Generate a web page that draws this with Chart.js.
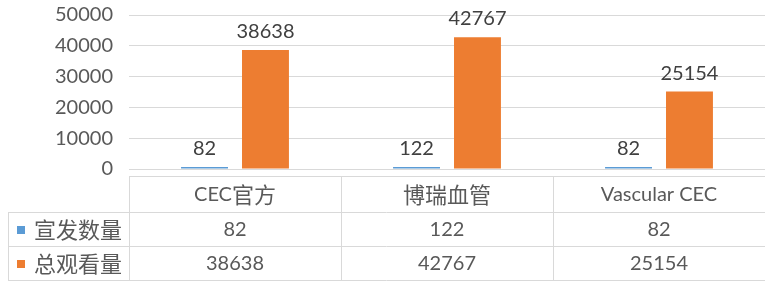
<!DOCTYPE html>
<html>
<head>
<meta charset="utf-8">
<script src="https://cdn.jsdelivr.net/npm/chart.js@4/dist/chart.umd.min.js"></script>
<style>
  html, body { margin: 0; padding: 0; background: #ffffff; }
  #wrap { width: 765px; height: 283px; position: relative; }
</style>
</head>
<body>
<div id="wrap"><canvas id="c" width="765" height="283"></canvas></div>
<script>
const categories = ["CEC官方", "博瑞血管", "Vascular CEC"];
const seriesNames = ["宣发数量", "总观看量"];
const releaseCounts = [82, 122, 82];
const totalViews = [38638, 42767, 25154];
const yTicks = [0, 10000, 20000, 30000, 40000, 50000];
const seriesColors = ["#5B9BD5", "#ED7D31"];

const LATIN_FONT = '20px Lato, sans-serif';
const CJK_FONT = '22px "Noto Sans CJK SC", sans-serif';
const GRID = '#d9d9d9';
const TEXT = '#595959';

function runs(str) {
  const out = [];
  for (const ch of str) {
    const cjk = /[\u3000-\u9fff\uff00-\uffef]/.test(ch);
    if (out.length && out[out.length - 1].cjk === cjk) out[out.length - 1].t += ch;
    else out.push({ t: ch, cjk });
  }
  return out;
}
function drawMixed(ctx, str, x, y, align) {
  const parts = runs(str);
  let total = 0;
  parts.forEach(p => { ctx.font = p.cjk ? CJK_FONT : LATIN_FONT; p.w = ctx.measureText(p.t).width; total += p.w; });
  let cx = align === 'center' ? x - total / 2 : x;
  ctx.textAlign = 'left';
  parts.forEach(p => {
    ctx.font = p.cjk ? CJK_FONT : LATIN_FONT;
    ctx.fillText(p.t, cx, p.cjk ? y - 0.5 : y);
    cx += p.w;
  });
}

const labelPlugin = {
  id: 'barLabels',
  afterDatasetsDraw(chart) {
    const ctx = chart.ctx;
    ctx.save();
    ctx.font = LATIN_FONT;
    ctx.fillStyle = '#404040';
    ctx.textAlign = 'center';
    ctx.textBaseline = 'alphabetic';
    chart.data.datasets.forEach((ds, di) => {
      const meta = chart.getDatasetMeta(di);
      meta.data.forEach((bar, i) => {
        ctx.fillText(String(ds.data[i]), bar.x, bar.y - 12);
      });
    });
    ctx.restore();
  }
};

const tablePlugin = {
  id: 'dataTable',
  afterDraw(chart) {
    const ctx = chart.ctx;
    const xs = chart.scales.x;
    const area = chart.chartArea;
    const n = categories.length;
    const cw = (area.right - area.left) / n;
    const rows = [176, 212, 246, 280];
    const legendLeft = 8;
    ctx.save();
    ctx.strokeStyle = GRID;
    ctx.lineWidth = 1;
    ctx.beginPath();
    ctx.moveTo(area.left, rows[0] + 0.5); ctx.lineTo(area.right, rows[0] + 0.5);
    for (let r = 1; r < rows.length; r++) {
      ctx.moveTo(legendLeft, rows[r] + 0.5); ctx.lineTo(area.right, rows[r] + 0.5);
    }
    ctx.moveTo(legendLeft + 0.5, rows[1]); ctx.lineTo(legendLeft + 0.5, rows[3] + 1);
    for (let i = 0; i < n; i++) {
      const bx = Math.round(xs.getPixelForValue(i) - cw / 2) + 0.5;
      ctx.moveTo(bx, rows[0]); ctx.lineTo(bx, rows[3] + 1);
    }
    ctx.stroke();

    ctx.fillStyle = TEXT;
    ctx.textBaseline = 'middle';
    categories.forEach((c, i) => {
      drawMixed(ctx, c, xs.getPixelForValue(i), (rows[0] + rows[1]) / 2 + 1, 'center');
    });
    chart.data.datasets.forEach((ds, di) => {
      const cy = (rows[di + 1] + rows[di + 2]) / 2 + 1;
      ds.data.forEach((v, i) => {
        drawMixed(ctx, String(v), xs.getPixelForValue(i), cy, 'center');
      });
      ctx.fillStyle = seriesColors[di];
      ctx.fillRect(17, Math.round(cy - 4), 8, 8);
      ctx.fillStyle = TEXT;
      drawMixed(ctx, ds.label, 34, cy, 'left');
    });
    ctx.restore();
  }
};

new Chart(document.getElementById('c'), {
  type: 'bar',
  data: {
    labels: categories,
    datasets: [
      { label: seriesNames[0], data: releaseCounts, backgroundColor: seriesColors[0], minBarLength: 2 },
      { label: seriesNames[1], data: totalViews, backgroundColor: seriesColors[1] }
    ]
  },
  options: {
    responsive: false,
    animation: false,
    events: [],
    categoryPercentage: 0.575,
    barPercentage: 0.77,
    layout: { padding: { top: 15, bottom: 114, left: 0, right: 0 } },
    plugins: { legend: { display: false }, tooltip: { enabled: false } },
    scales: {
      x: { display: false },
      y: {
        min: 0, max: 50000,
        afterFit(s) { s.width = 129; s.paddingTop = 0; s.paddingBottom = 0; },
        afterBuildTicks(s) { s.ticks = yTicks.map(v => ({ value: v })); },
        grid: { color: GRID, drawTicks: false, lineWidth: 1 },
        border: { display: false },
        ticks: {
          color: TEXT, padding: 16,
          font: { family: 'Lato, sans-serif', size: 20 },
          callback: (v) => String(v)
        }
      }
    }
  },
  plugins: [labelPlugin, tablePlugin]
});
</script>
</body>
</html>
